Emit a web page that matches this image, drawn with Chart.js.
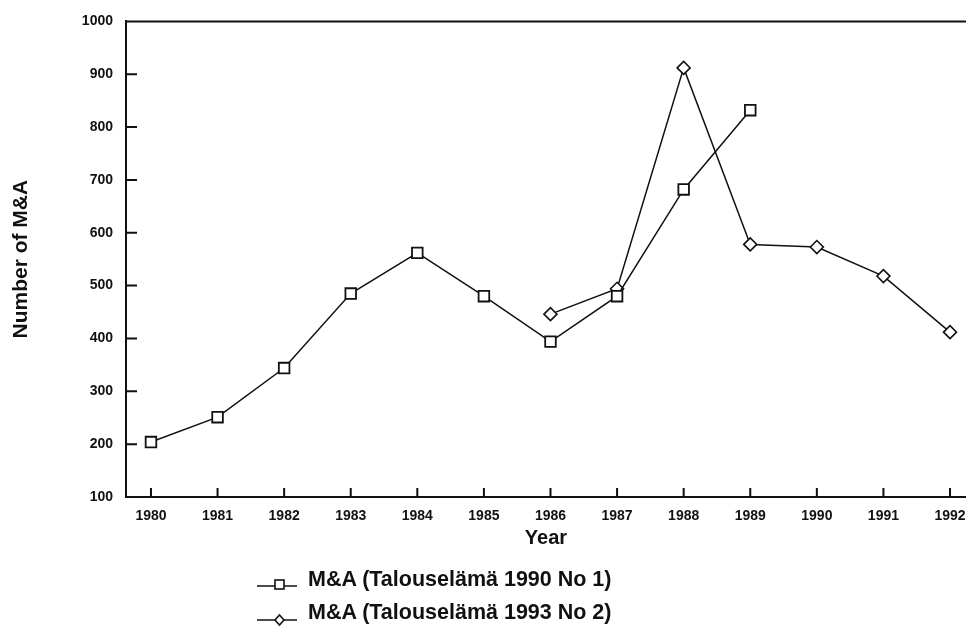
<!DOCTYPE html>
<html>
<head>
<meta charset="utf-8">
<script src="https://cdn.jsdelivr.net/npm/chart.js@4.4.1/dist/chart.umd.min.js"></script>
<style>
body{margin:0;background:#fff;}
#wrap{position:relative;width:966px;height:627px;overflow:hidden;}
#chart_canvas{position:absolute;left:0;top:0;}
.legend_item{position:absolute;left:255px;height:22px;font:bold 21.5px "Liberation Sans",Arial,sans-serif;line-height:22px;color:#111;white-space:nowrap;}
.legend_item svg{position:absolute;left:0;top:0;overflow:visible;}
.legend_item span{position:absolute;left:53px;top:0;}
</style>
</head>
<body>
<div id="wrap">
    <canvas id="chart_canvas" width="966" height="627"></canvas>
    <div class="legend_item" style="top:568px;">
        <svg width="44" height="26"><line x1="2" y1="18" x2="42" y2="18" stroke="#111" stroke-width="1.6"/><rect x="20" y="12" width="9" height="9" fill="#fff" stroke="#111" stroke-width="1.6"/></svg>
        <span>M&amp;A (Talouselämä 1990 No 1)</span>
    </div>
    <div class="legend_item" style="top:601px;">
        <svg width="44" height="26"><line x1="2" y1="19" x2="42" y2="19" stroke="#111" stroke-width="1.6"/><path d="M24.5 14 L29 19 L24.5 24 L20 19 Z" fill="#fff" stroke="#111" stroke-width="1.6"/></svg>
        <span>M&amp;A (Talouselämä 1993 No 2)</span>
    </div>
</div>
<script>
// values
const years = [1980, 1981, 1982, 1983, 1984, 1985, 1986, 1987, 1988, 1989, 1990, 1991, 1992];
const ma_1990 = [204, 251, 344, 485, 562, 480, 394, 480, 682, 832, null, null, null];
const ma_1993 = [null, null, null, null, null, null, 446, 494, 912, 578, 573, 518, 412];
const y_ticks = [100, 200, 300, 400, 500, 600, 700, 800, 900, 1000];

const font_family = '"Liberation Sans", Arial, sans-serif';
Chart.defaults.font.family = font_family;
Chart.defaults.color = "#111";

function toPoints(values){
    let points = [];
    for(let i in years){
        points.push({x: years[i], y: values[i]});
    }
    return points;
}

// top frame line + tick marks drawn inside the plot
const axis_frame = {
    id: "axis_frame",
    beforeDatasetsDraw(chart){
        const ctx = chart.ctx;
        const area = chart.chartArea;
        const x_scale = chart.scales.x;
        const y_scale = chart.scales.y;
        ctx.save();
        ctx.strokeStyle = "#111";
        ctx.lineWidth = 2;
        ctx.beginPath();
        ctx.moveTo(area.left, area.top);
        ctx.lineTo(area.right, area.top);
        y_scale.ticks.forEach(function(t){
            const py = y_scale.getPixelForValue(t.value);
            ctx.moveTo(area.left, py);
            ctx.lineTo(area.left + 11, py);
        });
        x_scale.ticks.forEach(function(t){
            const px = x_scale.getPixelForValue(t.value);
            ctx.moveTo(px, area.bottom);
            ctx.lineTo(px, area.bottom - 9);
        });
        ctx.stroke();
        ctx.restore();
    }
};

new Chart(document.getElementById("chart_canvas").getContext("2d"), {
    type: "line",
    data: {
        datasets: [{
            label: "M&A (Talouselämä 1990 No 1)",
            data: toPoints(ma_1990),
            borderColor: "#111",
            borderWidth: 1.5,
            pointStyle: "rect",
            pointRadius: 7.5,
            pointBorderWidth: 1.8,
            pointBackgroundColor: "#fff",
            pointBorderColor: "#111",
            tension: 0
        }, {
            label: "M&A (Talouselämä 1993 No 2)",
            data: toPoints(ma_1993),
            borderColor: "#111",
            borderWidth: 1.5,
            pointStyle: "rectRot",
            pointRadius: 6.5,
            pointBorderWidth: 1.6,
            pointBackgroundColor: "#fff",
            pointBorderColor: "#111",
            tension: 0
        }]
    },
    options: {
        responsive: false,
        animation: false,
        layout: { autoPadding: false, padding: { top: 21, right: 0, left: 0, bottom: 74 } },
        plugins: {
            legend: { display: false },
            tooltip: { enabled: false }
        },
        scales: {
            x: {
                type: "linear",
                min: 1979.625,
                max: 1992.24,
                grid: { display: false, drawTicks: false },
                border: { color: "#111", width: 2 },
                afterBuildTicks: function(scale){
                    scale.ticks = years.map(function(v){ return {value: v}; });
                },
                afterFit: function(scale){
                    scale.height = 56;
                    scale.paddingLeft = 0;
                    scale.paddingRight = 0;
                },
                ticks: {
                    autoSkip: false,
                    maxRotation: 0,
                    padding: 11,
                    font: { size: 14, weight: "bold" },
                    callback: function(v){ return String(v); }
                },
                title: {
                    display: true,
                    text: "Year",
                    font: { size: 20, weight: "bold" },
                    padding: { top: 0, bottom: 3 }
                }
            },
            y: {
                min: 100,
                max: 1000,
                grid: { display: false, drawTicks: false },
                border: { color: "#111", width: 2 },
                afterBuildTicks: function(scale){
                    scale.ticks = y_ticks.map(function(v){ return {value: v}; });
                },
                afterFit: function(scale){ scale.width = 126; },
                ticks: {
                    padding: 13,
                    font: { size: 14, weight: "bold" },
                    callback: function(v){ return String(v); }
                },
                title: {
                    display: true,
                    text: "Number of M&A",
                    font: { size: 21, weight: "bold" },
                    padding: { top: 9, bottom: 0 }
                }
            }
        }
    },
    plugins: [axis_frame]
});
</script>
</body>
</html>
